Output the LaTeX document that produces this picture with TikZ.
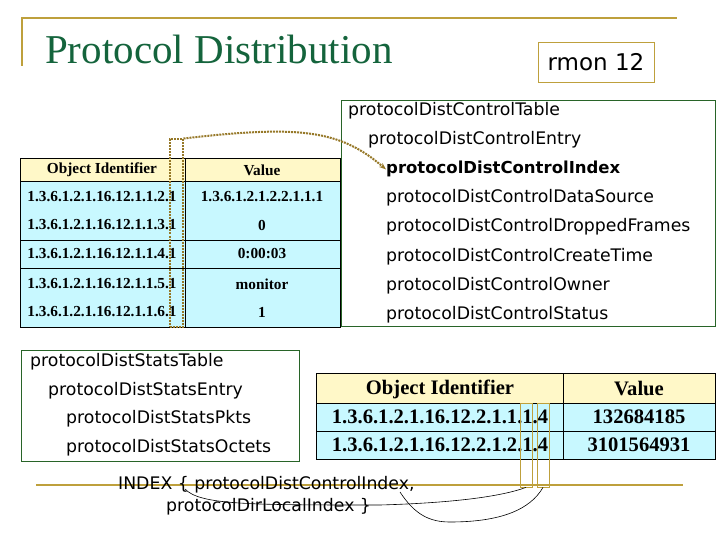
\documentclass[tikz,border=0pt]{standalone}
\usepackage{fontspec}
\setmainfont{Liberation Serif}
\newfontfamily\tah{DejaVu Sans}
\usetikzlibrary{arrows.meta}
\definecolor{gold}{RGB}{190,160,60}
\definecolor{ttl}{RGB}{20,100,60}
\definecolor{bx}{RGB}{40,100,40}
\definecolor{hdr}{RGB}{255,248,200}
\definecolor{rowc}{RGB}{200,248,255}
\definecolor{dot}{RGB}{150,120,40}
\begin{document}
\begin{tikzpicture}[x=1pt,y=-1pt,
  lst/.style={anchor=base west,font=\tah\fontsize{17.3}{19}\selectfont,inner sep=0},
  tc/.style={font=\bfseries\fontsize{15.3}{17}\selectfont,inner sep=0},
  tb/.style={font=\bfseries\fontsize{20.6}{22}\selectfont,inner sep=0},
  grid/.style={draw=black,line width=0.6pt}]
\useasboundingbox (0,0) rectangle (720,540);
% title
\draw[gold,line width=2.5pt] (22,66) -- (22,18) -- (677,18);
\node[anchor=base west,text=ttl,font=\fontsize{41}{44}\selectfont,inner sep=0] (title) at (45,64) {Protocol Distribution};
\node[draw=gold,line width=0.8pt,minimum width=116pt,minimum height=40pt,font=\tah\fontsize{23}{25}\selectfont,inner sep=0] (rmon) at (596,62) {rmon 12};
% control box
\draw[bx,line width=0.8pt] (341,100) rectangle (715,326);
\node[lst] (c1) at (348,116) {protocolDistControlTable};
\node[lst] (c2) at (368,145) {protocolDistControlEntry};
\node[lst,font=\tah\bfseries\fontsize{16.5}{18}\selectfont] (c3) at (386,174) {protocolDistControlIndex};
\node[lst] (c4) at (386,203) {protocolDistControlDataSource};
\node[lst] (c5) at (386,232) {protocolDistControlDroppedFrames};
\node[lst] (c6) at (386,261) {protocolDistControlCreateTime};
\node[lst] (c7) at (386,290) {protocolDistControlOwner};
\node[lst] (c8) at (386,319) {protocolDistControlStatus};
% left table
\fill[hdr] (20,158) rectangle (340,181);
\fill[rowc] (20,181) rectangle (340,327);
\draw[grid] (20,158) rectangle (340,327);
\draw[grid] (185,158) -- (185,327);
\foreach \y in {181,240,268} \draw[grid] (20,\y) -- (340,\y);
\node[tc] (h1) at (102,170) {Object Identifier};
\node[tc] (h2) at (262,170) {Value};
\foreach \i/\y/\v in {2/197/1.3.6.1.2.1.2.2.1.1.1,3/225/0,4/254/0:00:03,5/284/monitor,6/312/1}{
  \node[tc] (o\i) at (102,\y) {1.3.6.1.2.1.16.12.1.1.\i.1};
  \node[tc] (v\i) at (262,\y) {\v};}
% dotted highlight
\node[draw=dot,dash pattern=on 2pt off 1pt,line width=2pt,minimum width=13pt,minimum height=187pt,inner sep=0] (hl) at (176,233) {};
\draw[dot,dash pattern=on 2pt off 1pt,line width=2pt,-{Stealth[length=7pt]}] (hl.north east) .. controls (300,125) and (340,130) .. (c3.west);
% stats box
\draw[bx,line width=0.8pt] (21,350) rectangle (299,461);
\node[lst] (s1) at (30,366) {protocolDistStatsTable};
\node[lst] (s2) at (48,395) {protocolDistStatsEntry};
\node[lst] (s3) at (66,423) {protocolDistStatsPkts};
\node[lst] (s4) at (66,452) {protocolDistStatsOctets};
% bottom table
\fill[hdr] (316,373) rectangle (715,403);
\fill[rowc] (316,403) rectangle (715,459);
\draw[grid] (316,373) rectangle (715,459);
\draw[grid] (563,373) -- (563,459);
\foreach \y in {403,431} \draw[grid] (316,\y) -- (715,\y);
\node[tb] (bh1) at (440,389) {Object Identifier};
\node[tb] (bh2) at (639,389) {Value};
\node[tb] (b1) at (440,417) {1.3.6.1.2.1.16.12.2.1.1.1.4};
\node[tb] (bv1) at (639,417) {132684185};
\node[tb] (b2) at (440,445) {1.3.6.1.2.1.16.12.2.1.2.1.4};
\node[tb] (bv2) at (639,445) {3101564931};
\node[draw=gold,line width=0.8pt,minimum width=12pt,minimum height=84pt,inner sep=0] (k1) at (526,445) {};
\node[draw=gold,line width=0.8pt,minimum width=12pt,minimum height=84pt,inner sep=0] (k2) at (543,445) {};
% gold line and index text
\draw[gold,line width=2.5pt] (36,485) -- (683,485);
\node[lst] (i1) at (118,489) {INDEX \{ protocolDistControlIndex,};
\node[lst] (i2) at (166,511) {protocolDirLocalIndex \}};
\coordinate (a1) at (185,489);
\coordinate (a2) at (400,492);
\draw[black,line width=0.6pt] (a1) .. controls (200,505) and (250,505) .. (380,505) .. controls (450,503) and (500,497) .. (k1.south);
\draw[black,line width=0.6pt] (a2) .. controls (415,515) and (430,522) .. (450,522) .. controls (500,522) and (530,510) .. (k2.south);
\end{tikzpicture}
\end{document}
